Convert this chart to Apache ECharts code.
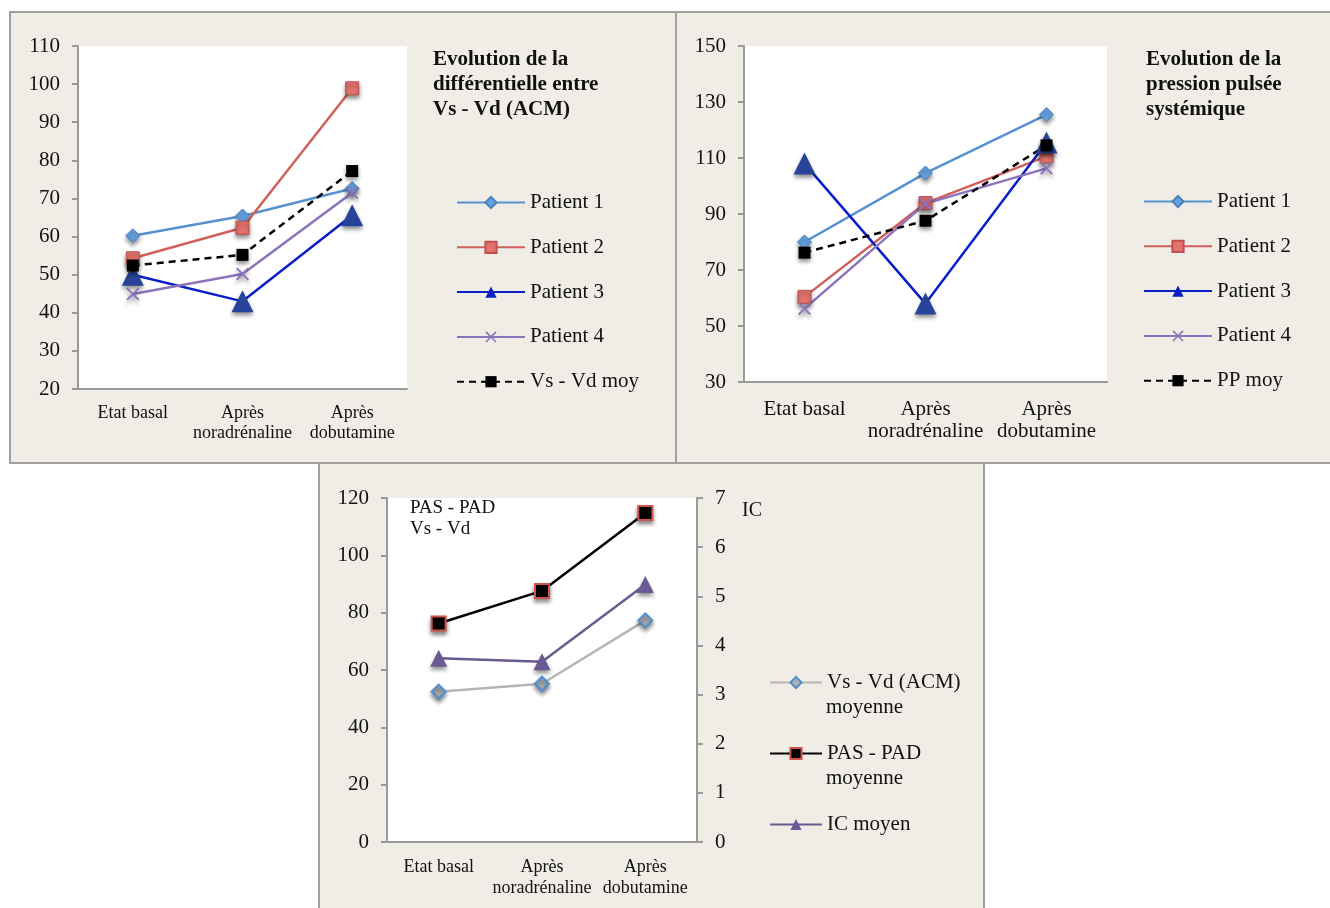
<!DOCTYPE html>
<html>
<head>
<meta charset="utf-8">
<script src="https://cdn.jsdelivr.net/npm/echarts@6/dist/echarts.min.js"></script>
<style>
  html, body { margin: 0; padding: 0; background: #fff; }
  #chart { width: 1330px; height: 908px; }
</style>
</head>
<body>
<div id="chart"></div>
<script>
const categories = ['Etat basal', 'Après\nnoradrénaline', 'Après\ndobutamine']

// panel 1 : Vs - Vd (ACM)
const vsvdTicks = [20, 30, 40, 50, 60, 70, 80, 90, 100, 110]
const vsvdPatient1 = [60.2, 65.4, 72.6]
const vsvdPatient2 = [54.3, 62.3, 98.9]
const vsvdPatient3 = [50, 43, 65.6]
const vsvdPatient4 = [44.9, 50.2, 71.5]
const vsvdMoy = [52.4, 55.2, 77.2]

// panel 2 : pression pulsée
const ppTicks = [30, 50, 70, 90, 110, 130, 150]
const ppPatient1 = [80, 104.6, 125.5]
const ppPatient2 = [60.4, 93.9, 110.6]
const ppPatient3 = [108, 58, 115.5]
const ppPatient4 = [56.2, 93.7, 106.3]
const ppMoy = [76.2, 87.6, 114.5]

// panel 3 : moyennes
const leftTicks = [0, 20, 40, 60, 80, 100, 120]
const icTicks = [0, 1, 2, 3, 4, 5, 6, 7]
const vsvdMoyenne = [52.4, 55.2, 77.3]
const pasPadMoyenne = [76.2, 87.6, 114.8]
const icMoyen = [3.74, 3.67, 5.24]

const FONT = '"Liberation Serif", "Times New Roman", serif'
const AXIS_GRAY = '#999999'
const shadow = { shadowBlur: 4, shadowColor: 'rgba(0,0,0,0.45)', shadowOffsetY: 3 }
const crossPath = 'path://M0,1L1,0L5,4L9,0L10,1L6,5L10,9L9,10L5,6L1,10L0,9L4,5Z'

function catAxis(gridIndex, fontSize, lineHeight, margin) {
  return {
    type: 'category',
    gridIndex,
    data: categories,
    axisLine: { lineStyle: { color: AXIS_GRAY, width: 2 } },
    axisTick: { length: 5, lineStyle: { color: AXIS_GRAY, width: 2 } },
    axisLabel: { interval: 0, color: '#111', fontFamily: FONT, fontSize, lineHeight, margin },
  }
}

function valAxis(gridIndex, ticks, fontSize, position) {
  return {
    type: 'value',
    gridIndex,
    position: position || 'left',
    min: ticks[0],
    max: ticks[ticks.length - 1],
    interval: ticks[1] - ticks[0],
    axisLine: { show: true, lineStyle: { color: AXIS_GRAY, width: 2 } },
    axisTick: { show: true, length: 6, lineStyle: { color: AXIS_GRAY, width: 2 } },
    splitLine: { show: false },
    axisLabel: { color: '#111', fontFamily: FONT, fontSize, margin: 18 },
  }
}

function patientSeries(idx, vals) {
  return [
    {
      name: 'Patient 1', type: 'line', xAxisIndex: idx, yAxisIndex: idx, data: vals[0],
      symbol: 'diamond', symbolSize: 14,
      lineStyle: { color: '#5791cf', width: 2.5 },
      itemStyle: { color: '#64a0dc', borderColor: '#4a82c0', borderWidth: 1, ...shadow },
    },
    {
      name: 'Patient 2', type: 'line', xAxisIndex: idx, yAxisIndex: idx, data: vals[1],
      symbol: 'rect', symbolSize: 13,
      lineStyle: { color: '#d0605b', width: 2.5 },
      itemStyle: { color: '#e3736e', borderColor: '#c0504d', borderWidth: 1, ...shadow },
    },
    {
      name: 'Patient 3', type: 'line', xAxisIndex: idx, yAxisIndex: idx, data: vals[2],
      symbol: 'triangle', symbolSize: 22,
      lineStyle: { color: '#0b1fc8', width: 2.5 },
      itemStyle: { color: '#28449a', ...shadow },
    },
    {
      name: 'Patient 4', type: 'line', xAxisIndex: idx, yAxisIndex: idx, data: vals[3],
      symbol: crossPath, symbolSize: 13,
      lineStyle: { color: '#8b74bc', width: 2.5 },
      itemStyle: { color: '#8b74bc', ...shadow },
    },
    {
      name: vals[5], type: 'line', xAxisIndex: idx, yAxisIndex: idx, data: vals[4],
      symbol: 'rect', symbolSize: 12,
      lineStyle: { color: '#000', width: 2.5, type: [7, 5] },
      itemStyle: { color: '#000', ...shadow },
    },
  ]
}

function legendFor(names, left, top, itemWidth, itemGap) {
  return {
    orient: 'vertical',
    left, top, padding: 0,
    itemWidth, itemHeight: 14, itemGap,
    selectedMode: false,
    data: names.map(n => n === 'Patient 3'
      ? { name: n, itemStyle: { color: '#0a1ec4', shadowBlur: 0, shadowOffsetY: 0 } }
      : { name: n, itemStyle: { shadowBlur: 0, shadowOffsetY: 0 } }),
    textStyle: { color: '#111', fontFamily: FONT, fontSize: 21 },
  }
}

const chart = echarts.init(document.getElementById('chart'))

const option = {
  animation: false,
  backgroundColor: '#fff',
  graphic: [
    { type: 'rect', z: -10, shape: { x: 10, y: 12, width: 666, height: 451 },
      style: { fill: '#f0ede6', stroke: '#a0a0a0', lineWidth: 2 } },
    { type: 'rect', z: -10, shape: { x: 676, y: 12, width: 700, height: 451 },
      style: { fill: '#f0ede6', stroke: '#a0a0a0', lineWidth: 2 } },
    { type: 'rect', z: -10, shape: { x: 319, y: 463, width: 665, height: 470 },
      style: { fill: '#f0ede6', stroke: '#a0a0a0', lineWidth: 2 } },
    { type: 'text', left: 826, top: 697, style: { text: 'moyenne', font: '21px ' + FONT, fill: '#111' } },
    { type: 'text', left: 826, top: 768, style: { text: 'moyenne', font: '21px ' + FONT, fill: '#111' } },
  ],
  title: [
    { text: 'Evolution de la\ndifférentielle entre\nVs - Vd (ACM)', left: 433, top: 47, padding: 0,
      textStyle: { fontFamily: FONT, fontSize: 21, fontWeight: 'bold', lineHeight: 25, color: '#111' } },
    { text: 'Evolution de la\npression pulsée\nsystémique', left: 1146, top: 47, padding: 0,
      textStyle: { fontFamily: FONT, fontSize: 21, fontWeight: 'bold', lineHeight: 25, color: '#111' } },
    { text: 'PAS - PAD\nVs - Vd', left: 410, top: 498, padding: 0,
      textStyle: { fontFamily: FONT, fontSize: 19, fontWeight: 'normal', lineHeight: 21, color: '#111' } },
    { text: 'IC', left: 742, top: 501, padding: 0,
      textStyle: { fontFamily: FONT, fontSize: 20, fontWeight: 'normal', color: '#111' } },
  ],
  legend: [
    legendFor(['Patient 1', 'Patient 2', 'Patient 3', 'Patient 4', 'Vs - Vd moy'], 456, 192, 68, 23.8),
    legendFor(['Patient 1', 'Patient 2', 'Patient 3', 'Patient 4', 'PP moy'], 1143, 191, 68, 23.8),
    legendFor(['Vs - Vd (ACM)', 'PAS - PAD', 'IC moyen'], 769, 672, 52, 50),
  ],
  grid: [
    { left: 78, top: 46, width: 329, height: 343, show: true, backgroundColor: '#fff', borderWidth: 0 },
    { left: 744, top: 46, width: 363, height: 336, show: true, backgroundColor: '#fff', borderWidth: 0 },
    { left: 387, top: 498, width: 310, height: 344, show: true, backgroundColor: '#fff', borderWidth: 0 },
  ],
  xAxis: [
    catAxis(0, 18, 20, 14),
    catAxis(1, 21, 22, 16),
    catAxis(2, 18, 21, 15),
  ],
  yAxis: [
    valAxis(0, vsvdTicks, 21),
    valAxis(1, ppTicks, 21),
    valAxis(2, leftTicks, 21),
    valAxis(2, icTicks, 21, 'right'),
  ],
  series: [
    ...patientSeries(0, [vsvdPatient1, vsvdPatient2, vsvdPatient3, vsvdPatient4, vsvdMoy, 'Vs - Vd moy']),
    ...patientSeries(1, [ppPatient1, ppPatient2, ppPatient3, ppPatient4, ppMoy, 'PP moy']),
    {
      name: 'Vs - Vd (ACM)', type: 'line', xAxisIndex: 2, yAxisIndex: 2, data: vsvdMoyenne,
      symbol: 'diamond', symbolSize: 14,
      lineStyle: { color: '#b5b5b5', width: 2.5 },
      itemStyle: { color: '#b0b0b0', borderColor: '#4f8fd0', borderWidth: 2, ...shadow },
    },
    {
      name: 'PAS - PAD', type: 'line', xAxisIndex: 2, yAxisIndex: 2, data: pasPadMoyenne,
      symbol: 'rect', symbolSize: 14,
      lineStyle: { color: '#000', width: 2.5 },
      itemStyle: { color: '#000', borderColor: '#d0524d', borderWidth: 2, ...shadow },
    },
    {
      name: 'IC moyen', type: 'line', xAxisIndex: 2, yAxisIndex: 3, data: icMoyen,
      symbol: 'triangle', symbolSize: 17,
      lineStyle: { color: '#6b5992', width: 2.5 },
      itemStyle: { color: '#6b5996', ...shadow },
    },
  ],
}

chart.setOption(option)
</script>
</body>
</html>
